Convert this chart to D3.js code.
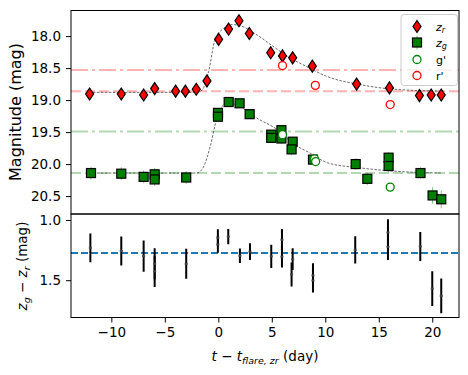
<!DOCTYPE html>
<html>
<head>
<meta charset="utf-8">
<script src="https://cdn.jsdelivr.net/npm/d3@7"></script>
<style>
  body { margin: 0; background: #fff; }
  text { font-family: "DejaVu Sans", sans-serif; }
</style>
</head>
<body>
<div id="chart"></div>
<script>
// z_r light curve (red diamonds)
const zrT   = [-12.03, -9.07, -6.98, -5.95, -3.99, -3.08, -2.06, -1.06, 0.03, 0.96, 1.93, 2.9, 4.9, 6.0, 6.95, 8.79, 12.93, 16.0, 18.8, 19.9, 20.84];
const zrMag = [18.905, 18.905, 18.92, 18.82, 18.86, 18.86, 18.83, 18.70, 18.05, 17.89, 17.76, 17.96, 18.26, 18.31, 18.34, 18.47, 18.75, 18.81, 18.93, 18.92, 18.92];

// z_g light curve (green squares)
const zgT   = [-11.9, -9.07, -6.98, -5.95, -5.95, -3.0, -0.03, -0.03, 0.97, 1.99, 2.93, 4.95, 4.95, 5.9, 5.9, 6.95, 6.85, 8.85, 12.84, 13.93, 15.92, 15.92, 18.9, 20.03, 20.84];
const zgMag = [20.14, 20.15, 20.20, 20.16, 20.24, 20.21, 19.20, 19.26, 19.03, 19.05, 19.22, 19.54, 19.59, 19.47, 19.60, 19.65, 19.77, 19.93, 20.0, 20.23, 19.90, 20.03, 20.14, 20.49, 20.55];
const zgErr = [0.1, 0.1, 0.1, 0.1, 0.1, 0.1, 0.06, 0.06, 0.05, 0.05, 0.05, 0.07, 0.07, 0.08, 0.08, 0.07, 0.09, 0.09, 0.09, 0.1, 0.09, 0.1, 0.09, 0.13, 0.14];

// g' and r' (open circles)
const gpT   = [6.0, 9.0, 9.1, 16.07];
const gpMag = [19.54, 19.92, 19.96, 20.36];
const rpT   = [6.0, 9.07, 16.07];
const rpMag = [18.46, 18.77, 19.07];

// model curves
const curveRT   = [-12.1, -2.0, -1.5, -0.9, -0.3, 0.5, 1.3, 2.1, 3.6, 5.2, 6.7, 8.3, 10.0, 13.3, 16.4, 20.9];
const curveRMag = [18.88, 18.88, 18.84, 18.55, 18.05, 17.88, 17.82, 17.84, 17.98, 18.17, 18.34, 18.48, 18.62, 18.76, 18.83, 18.86];
const curveGT   = [-12.1, -2.0, -1.4, -0.75, -0.28, 0.2, 0.8, 1.4, 2.4, 3.6, 5.5, 7.0, 8.6, 10.2, 13.3, 16.4, 20.9];
const curveGMag = [20.14, 20.14, 20.05, 19.72, 19.38, 19.13, 19.06, 19.06, 19.14, 19.28, 19.46, 19.68, 19.83, 19.98, 20.06, 20.11, 20.14];

// reference levels
const refR = [18.53, 18.86];   // dash-dot, dashed
const refG = [19.49, 20.14];

// colour z_g - z_r
const colT   = [-11.96, -9.07, -6.98, -5.95, -5.95, -3.0, -0.04, -0.04, 0.93, 2.02, 2.96, 4.95, 5.95, 5.95, 6.95, 6.85, 8.85, 8.85, 12.8, 15.86, 15.86, 18.88, 20.0, 20.84];
const colVal = [1.231, 1.257, 1.30, 1.364, 1.426, 1.364, 1.147, 1.203, 1.138, 1.297, 1.263, 1.302, 1.164, 1.305, 1.325, 1.452, 1.46, 1.503, 1.248, 1.104, 1.223, 1.22, 1.57, 1.63];
const colErr = [0.12, 0.12, 0.13, 0.13, 0.13, 0.125, 0.07, 0.07, 0.063, 0.06, 0.07, 0.096, 0.09, 0.09, 0.09, 0.1, 0.1, 0.1, 0.113, 0.11, 0.11, 0.12, 0.144, 0.144];
const colMean = 1.274;

const xTicks = [-10, -5, 0, 5, 10, 15, 20];
const magTicks = [18.0, 18.5, 19.0, 19.5, 20.0, 20.5];
const colTicks = [1.0, 1.5];
const legendLabels = ["zr", "zg", "g'", "r'"];

const W = 468, H = 375;
const pLeft = 71, pRight = 459, pTop = 10.5, pMid = 214, pBottom = 317.5;

const svg = d3.select("#chart").append("svg")
    .attr("width", W).attr("height", H);

const x = d3.scaleLinear().domain([-13.77, 22.5]).range([pLeft, pRight]);
const y = d3.scaleLinear().domain([17.6, 20.78]).range([pTop, pMid]);
const yc = d3.scaleLinear().domain([0.95, 1.81]).range([pMid, pBottom]);

// clip paths
svg.append("clipPath").attr("id", "clipTop").append("rect")
    .attr("x", pLeft).attr("y", pTop).attr("width", pRight - pLeft).attr("height", pMid - pTop);
svg.append("clipPath").attr("id", "clipBot").append("rect")
    .attr("x", pLeft).attr("y", pMid).attr("width", pRight - pLeft).attr("height", pBottom - pMid);

const gTop = svg.append("g").attr("clip-path", "url(#clipTop)");
const gBot = svg.append("g").attr("clip-path", "url(#clipBot)");

// reference lines
const dashDot = "17,4,3,4", dashed = "10,4";
refR.forEach((v, i) => {
    gTop.append("line").attr("x1", pLeft).attr("x2", pRight).attr("y1", y(v)).attr("y2", y(v))
        .attr("stroke", "#ffb3b3").attr("stroke-width", 2)
        .attr("stroke-dasharray", i == 0 ? dashDot : dashed);
});
refG.forEach((v, i) => {
    gTop.append("line").attr("x1", pLeft).attr("x2", pRight).attr("y1", y(v)).attr("y2", y(v))
        .attr("stroke", "#b3d9b3").attr("stroke-width", 2)
        .attr("stroke-dasharray", i == 0 ? dashDot : dashed);
});

// model curves
const line = d3.line().curve(d3.curveMonotoneX);
[[curveRT, curveRMag], [curveGT, curveGMag]].forEach(([ts, ms]) => {
    gTop.append("path")
        .attr("d", line(ts.map((t, i) => [x(t), y(ms[i])])))
        .attr("fill", "none").attr("stroke", "#444").attr("stroke-width", 0.8)
        .attr("stroke-dasharray", "2.5,1.5");
});

// z_g error bars + squares
const zg = zgT.map((t, i) => ({t: t, m: zgMag[i], e: zgErr[i]}));
gTop.selectAll(".zgerr").data(zg).enter().append("line")
    .attr("x1", d => x(d.t)).attr("x2", d => x(d.t))
    .attr("y1", d => y(d.m - d.e)).attr("y2", d => y(d.m + d.e))
    .attr("stroke", "#7fc97f").attr("stroke-width", 1);
const sq = 9;
gTop.selectAll(".zg").data(zg).enter().append("rect")
    .attr("x", d => x(d.t) - sq / 2).attr("y", d => y(d.m) - sq / 2)
    .attr("width", sq).attr("height", sq)
    .attr("fill", "green").attr("stroke", "black").attr("stroke-width", 1.2);

// z_r diamonds
const diamond = "M0,-6 L4,0 L0,6 L-4,0 Z";
gTop.selectAll(".zr").data(zrT).enter().append("path")
    .attr("d", diamond)
    .attr("transform", (t, i) => "translate(" + x(t) + "," + y(zrMag[i]) + ")")
    .attr("fill", "red").attr("stroke", "black").attr("stroke-width", 1.2);

// g' and r' circles
gTop.selectAll(".gp").data(gpT).enter().append("circle")
    .attr("cx", d => x(d)).attr("cy", (d, i) => y(gpMag[i])).attr("r", 4)
    .attr("fill", "white").attr("stroke", "green").attr("stroke-width", 1.3);
gTop.selectAll(".rp").data(rpT).enter().append("circle")
    .attr("cx", d => x(d)).attr("cy", (d, i) => y(rpMag[i])).attr("r", 4)
    .attr("fill", "white").attr("stroke", "red").attr("stroke-width", 1.3);

// bottom panel
gBot.append("line").attr("x1", pLeft).attr("x2", pRight)
    .attr("y1", yc(colMean)).attr("y2", yc(colMean))
    .attr("stroke", "#1f77b4").attr("stroke-width", 2).attr("stroke-dasharray", "7,3");
const col = colT.map((t, i) => ({t: t, v: colVal[i], e: colErr[i]}));
gBot.selectAll(".colerr").data(col).enter().append("line")
    .attr("x1", d => x(d.t)).attr("x2", d => x(d.t))
    .attr("y1", d => yc(d.v - d.e)).attr("y2", d => yc(d.v + d.e))
    .attr("stroke", "black").attr("stroke-width", 2);
gBot.selectAll(".col").data(col).enter().append("rect")
    .attr("x", d => x(d.t) - 1.5).attr("y", d => yc(d.v) - 1)
    .attr("width", 3).attr("height", 2)
    .attr("fill", "#444");

// axes
const fs = "13.5px";
const ax = svg.append("g").attr("transform", "translate(0," + pBottom + ")")
    .call(d3.axisBottom(x).tickValues(xTicks).tickSize(5).tickPadding(5));
const ay = svg.append("g").attr("transform", "translate(" + pLeft + ",0)")
    .call(d3.axisLeft(y).tickValues(magTicks).tickFormat(d3.format(".1f")).tickSize(5).tickPadding(5));
const ayc = svg.append("g").attr("transform", "translate(" + pLeft + ",0)")
    .call(d3.axisLeft(yc).tickValues(colTicks).tickFormat(d3.format(".1f")).tickSize(5).tickPadding(5));
[ax, ay, ayc].forEach(a => {
    a.select(".domain").remove();
    a.selectAll("text").style("font-size", fs).attr("fill", "#000");
    a.selectAll("line").attr("stroke", "#000");
});

// frames
[[pTop, pMid], [pMid, pBottom]].forEach(([a, b]) => {
    svg.append("rect").attr("x", pLeft).attr("y", a).attr("width", pRight - pLeft).attr("height", b - a)
        .attr("fill", "none").attr("stroke", "black").attr("stroke-width", 1);
});

// legend
const lg = svg.append("g");
lg.append("rect").attr("x", 401).attr("y", 14.5).attr("width", 56.5).attr("height", 71)
    .attr("rx", 3).attr("fill", "white").attr("fill-opacity", 0.8)
    .attr("stroke", "#cccccc").attr("stroke-width", 1);
const ly = [26.5, 42.5, 59.5, 75.5];
lg.append("path").attr("d", diamond).attr("transform", "translate(417," + ly[0] + ")")
    .attr("fill", "red").attr("stroke", "black").attr("stroke-width", 1.2);
lg.append("line").attr("x1", 417).attr("x2", 417).attr("y1", ly[1] - 7).attr("y2", ly[1] + 7)
    .attr("stroke", "#7fc97f").attr("stroke-width", 1);
lg.append("rect").attr("x", 417 - sq / 2).attr("y", ly[1] - sq / 2).attr("width", sq).attr("height", sq)
    .attr("fill", "green").attr("stroke", "black").attr("stroke-width", 1.2);
lg.append("circle").attr("cx", 417).attr("cy", ly[2]).attr("r", 4)
    .attr("fill", "white").attr("stroke", "green").attr("stroke-width", 1.3);
lg.append("circle").attr("cx", 417).attr("cy", ly[3]).attr("r", 4)
    .attr("fill", "white").attr("stroke", "red").attr("stroke-width", 1.3);
legendLabels.forEach((lab, i) => {
    const t = lg.append("text").attr("x", 436).attr("y", ly[i] + 4).style("font-size", "11px");
    if (i < 2) {
        t.append("tspan").style("font-style", "italic").text(lab[0]);
        t.append("tspan").style("font-style", "italic").style("font-size", "8px").attr("dy", 2.5).text(lab[1]);
    } else {
        t.text(lab);
    }
});

// axis labels
svg.append("text").attr("transform", "translate(21,112) rotate(-90)")
    .attr("text-anchor", "middle").style("font-size", "16px").text("Magnitude (mag)");

const yl2 = svg.append("text").attr("transform", "translate(27,266) rotate(-90)")
    .attr("text-anchor", "middle").style("font-size", "13.5px");
yl2.append("tspan").style("font-style", "italic").text("z");
yl2.append("tspan").style("font-style", "italic").style("font-size", "9.5px").attr("dy", 3).text("g");
yl2.append("tspan").attr("dy", -3).text(" \u2212 ");
yl2.append("tspan").style("font-style", "italic").text("z");
yl2.append("tspan").style("font-style", "italic").style("font-size", "9.5px").attr("dy", 3).text("r");
yl2.append("tspan").attr("dy", -3).text(" (mag)");

const xl = svg.append("text").attr("x", (pLeft + pRight) / 2).attr("y", 361)
    .attr("text-anchor", "middle").style("font-size", "13.5px");
xl.append("tspan").style("font-style", "italic").text("t");
xl.append("tspan").text(" \u2212 ");
xl.append("tspan").style("font-style", "italic").text("t");
xl.append("tspan").style("font-style", "italic").style("font-size", "9.5px").attr("dy", 3).text("flare, zr");
xl.append("tspan").attr("dy", -3).text(" (day)");
</script>
</body>
</html>
